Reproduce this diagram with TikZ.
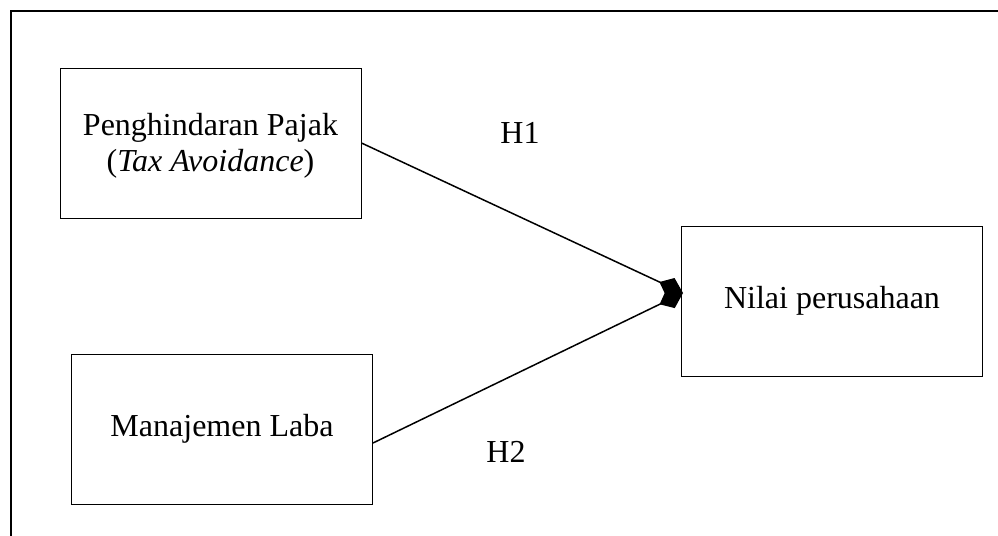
\documentclass[tikz,border=0pt]{standalone}
\usepackage{fontspec}
\setmainfont{Liberation Serif}
\usetikzlibrary{arrows.meta}

\tikzset{
  kotak/.style={draw,line width=0.5pt,minimum width=150.5pt,minimum height=75pt,
                align=center,inner sep=0pt,font=\fontsize{16}{18}\selectfont},
  panah/.style={line width=0.75pt,-{Kite[length=13pt,width=10pt,inset=6pt]}},
  hipo/.style={font=\fontsize{16}{18}\selectfont}
}

\begin{document}
\begin{tikzpicture}[x=0.5pt,y=-0.5pt]
                \useasboundingbox (0,0) rectangle (998,536);
                \draw [line width=1pt] (11,11) rectangle (1020,560);
                \node[kotak,text height=28pt,text depth=0pt] (pajak) at (210.5,143) {Penghindaran Pajak\\(\textit{Tax Avoidance})};
                \node[kotak] (laba) at (222,429) {Manajemen Laba};
                \node[kotak] (nilai) at (832,301) {Nilai perusahaan};
                \coordinate (tip) at (683,293);
                \coordinate (awal) at ([yshift=-7pt]laba.east);
                \draw [panah] (pajak.east)--(tip);
                \draw [panah] (awal)--(tip);
                \node[hipo] (h1) at (520,133) {H1};
                \node[hipo] (h2) at (506,452) {H2};
\end{tikzpicture}
\end{document}
